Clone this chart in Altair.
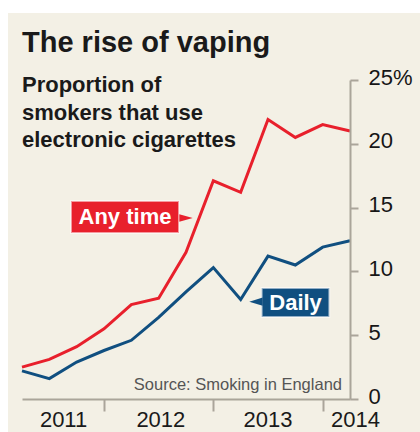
import altair as alt
import pandas as pd

# ---- data ----
quarters = [2011.25, 2011.5, 2011.75, 2012.0, 2012.25, 2012.5, 2012.75,
            2013.0, 2013.25, 2013.5, 2013.75, 2014.0, 2014.25]
any_time = [2.5, 3.1, 4.1, 5.5, 7.4, 7.9, 11.5, 17.1, 16.2, 21.9, 20.5, 21.5, 21.0]
daily = [2.2, 1.6, 2.9, 3.8, 4.6, 6.4, 8.4, 10.3, 7.8, 11.2, 10.5, 11.9, 12.4]
series_names = ["Any time", "Daily"]
year_labels = ["2011", "2012", "2013", "2014"]
year_label_pos = [2011.63, 2012.52, 2013.5, 2014.3]
y_ticks = [0, 5, 10, 15, 20, 25]
title_text = "The rise of vaping"
subtitle_lines = ["Proportion of", "smokers that use", "electronic cigarettes"]
source_text = "Source: Smoking in England"

RED = "#e8202c"
BLUE = "#104f80"
CREAM = "#f3f0e5"
AXIS = "#aaa59a"
FONT = "Liberation Sans"

rows = []
for q, a, d in zip(quarters, any_time, daily):
    rows.append({"t": q, "v": a, "s": series_names[0]})
    rows.append({"t": q, "v": d, "s": series_names[1]})
df = pd.DataFrame(rows)

years_df = pd.DataFrame({"t": year_label_pos, "label": year_labels})

ann = pd.DataFrame({
    "label": series_names,
    "x1": [2011.698, 2013.442], "x2": [2012.686, 2014.061],
    "y1": [15.52, 8.70], "y2": [13.01, 6.43],
    "tx": [2012.192, 2013.752], "ty": [14.26, 7.56],
    "px": [2012.75, 2013.39], "py": [14.18, 7.63],
    "shape": ["M-1,-0.55L1,0L-1,0.55Z", "M1,-0.6L-1,0L1,0.6Z"],
})

xscale = alt.Scale(domain=[2011.25, 2014.25], nice=False, zero=False)
yscale = alt.Scale(domain=[0, 25], nice=False)
cscale = alt.Scale(domain=series_names, range=[RED, BLUE])

bg = alt.Chart(pd.DataFrame({"a": [0]})).mark_rect(color=CREAM).encode(
    x=alt.value(-14), x2=alt.value(398), y=alt.value(-67), y2=alt.value(352)
)

lines = alt.Chart(df).mark_line(strokeWidth=3, strokeJoin="miter").encode(
    x=alt.X("t:Q", scale=xscale,
            axis=alt.Axis(values=[2012, 2013, 2014], labels=False, tickSize=12,
                          tickColor=AXIS, tickWidth=2, domainColor=AXIS,
                          domainWidth=2, grid=False, title=None, zindex=1)),
    y=alt.Y("v:Q", scale=yscale,
            axis=alt.Axis(orient="right", values=y_ticks,
                          labelExpr="datum.value == 25 ? '25%' : datum.label",
                          domainColor=AXIS, domainWidth=2, tickColor=AXIS,
                          tickSize=8, tickWidth=2, labelPadding=10,
                          labelFontSize=22, labelFont=FONT, labelColor="#161616",
                          labelAlign="left", labelBaseline="middle", labelOffset=-3,
                          grid=False, title=None, zindex=1)),
    color=alt.Color("s:N", scale=cscale, legend=None),
    detail="s:N",
)

year_text = alt.Chart(years_df).mark_text(
    font=FONT, fontSize=22, color="#1a1a1a", baseline="alphabetic", align="center"
).encode(x=alt.X("t:Q", scale=xscale), y=alt.value(347), text="label:N")

boxes = alt.Chart(ann).mark_rect(strokeWidth=2, stroke="#ffffff", strokeOpacity=0.55).encode(
    x=alt.X("x1:Q", scale=xscale), x2="x2:Q",
    y=alt.Y("y1:Q", scale=yscale), y2="y2:Q",
    color=alt.Color("label:N", scale=cscale, legend=None),
)

pointers = alt.Chart(ann).mark_point(filled=True, opacity=1, size=180).encode(
    x=alt.X("px:Q", scale=xscale), y=alt.Y("py:Q", scale=yscale),
    shape=alt.Shape("shape:N", scale=None),
    color=alt.Color("label:N", scale=cscale, legend=None),
)

box_text = alt.Chart(ann).mark_text(
    font=FONT, fontSize=22, fontWeight="bold", color="white",
    align="center", baseline="middle"
).encode(x=alt.X("tx:Q", scale=xscale), y=alt.Y("ty:Q", scale=yscale), text="label:N")

title = alt.Chart(pd.DataFrame({"a": [0]})).mark_text(
    text=title_text, font=FONT, fontSize=29, fontWeight="bold", color="#1a1a1a",
    align="left", baseline="alphabetic"
).encode(x=alt.value(0), y=alt.value(-28))

subtitle = alt.Chart(pd.DataFrame({"a": [0]})).mark_text(
    text=subtitle_lines, font=FONT, fontSize=22, fontWeight="bold", color="#1a1a1a",
    align="left", baseline="alphabetic", lineHeight=27.5
).encode(x=alt.value(0), y=alt.value(12))

source = alt.Chart(pd.DataFrame({"a": [0]})).mark_text(
    text=source_text, font=FONT, fontSize=16.5, color="#555555",
    align="right", baseline="alphabetic"
).encode(x=alt.value(320), y=alt.value(310))

chart = alt.layer(
    bg, lines, boxes, pointers, box_text, year_text, title, subtitle, source
).properties(
    width=328, height=319,
    padding={"left": 22, "top": 80, "right": 70, "bottom": 33},
    autosize=alt.AutoSizeParams(type="none"),
    background="white",
).configure_view(strokeWidth=0)

chart.save("out.html", embed_options={"renderer": "svg", "actions": False})
